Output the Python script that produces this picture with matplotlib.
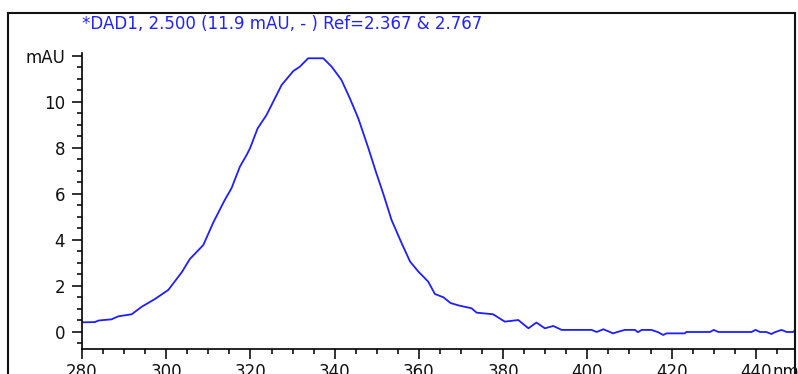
"""
DAD UV spectrum (280-450 nm) redrawn from a ChemStation export.
Saved to out.png; nothing is shown interactively.
"""

import matplotlib
matplotlib.use("Agg")
import matplotlib.pyplot as plt
from matplotlib.lines import Line2D
from matplotlib.ticker import MultipleLocator, FixedLocator

# ---------------------------------------------------------------------------
# Data
# ---------------------------------------------------------------------------

wavelength_nm = [
    280, 283, 284, 287, 288.6, 291.8, 294.2, 297.3, 300.5, 303.7,
    305.6, 308.8, 311.2, 313.9, 315.5, 317.5, 319.1, 319.9, 321.7, 323.8,
    325.4, 327.4, 330.2, 331.7, 333.7, 337.3, 339.3, 341.6, 343.6, 345.6,
    348.0, 349.9, 351.5, 353.5, 355.9, 357.9, 359.9, 362.2, 363.8, 365.8,
    367.5, 369.5, 372.5, 373.7, 377.6, 380.4, 383.6, 386.0, 387.9, 389.9,
    391.9, 393.9, 401.0, 402.2, 403.8, 406.1, 407.3, 408.9, 411.3, 412.0,
    412.9, 415.2, 416.8, 418.0, 418.8, 423.1, 423.5, 429.1, 430.0, 431.1,
    439.0, 439.9, 441.0, 442.5, 443.7, 444.5, 446.1, 447.3, 448.9, 449.7,
]
absorbance_mau = [
    0.42, 0.43, 0.50, 0.55, 0.68, 0.77, 1.10, 1.43, 1.83, 2.60,
    3.17, 3.78, 4.77, 5.74, 6.25, 7.19, 7.70, 7.99, 8.85, 9.43,
    10.01, 10.74, 11.35, 11.53, 11.90, 11.90, 11.53, 10.96, 10.16, 9.29,
    7.99, 6.90, 6.03, 4.87, 3.86, 3.06, 2.62, 2.19, 1.65, 1.51,
    1.26, 1.15, 1.03, 0.84, 0.77, 0.45, 0.52, 0.16, 0.41, 0.16,
    0.26, 0.09, 0.09, 0.00, 0.12, -0.06, 0.01, 0.09, 0.09, -0.01,
    0.09, 0.09, -0.01, -0.13, -0.06, -0.06, 0.00, 0.00, 0.09, 0.00,
    0.00, 0.09, 0.00, 0.00, -0.09, -0.01, 0.09, 0.00, 0.00, 0.16,
]

x_major = [280, 300, 320, 340, 360, 380, 400, 420, 440]
y_major = [0, 2, 4, 6, 8, 10, 12]
y_labels = ["0", "2", "4", "6", "8", "10", "mAU"]
title_text = "*DAD1, 2.500 (11.9 mAU, - ) Ref=2.367 & 2.767"

# ---------------------------------------------------------------------------
# Figure
# ---------------------------------------------------------------------------

W, H = 798, 374
FS = 12
plt.rcParams["font.family"] = ["DejaVu Sans"]

fig = plt.figure(figsize=(W / 100, H / 100), dpi=100)
# axes box in pixels: x 82..795, y 53..349 (from top)
ax = fig.add_axes([82 / W, 1 - 349 / H, (795 - 82) / W, (349 - 53) / H])

ax.plot(wavelength_nm, absorbance_mau, color="#1e1eff", lw=1.3)
ax.set_xlim(280, 449.3)
ax.set_ylim(-0.74, 12.13)

for side in ("top", "right"):
    ax.spines[side].set_visible(False)
for side in ("left", "bottom"):
    ax.spines[side].set_linewidth(1.2)

ax.xaxis.set_major_locator(FixedLocator(x_major))
ax.xaxis.set_minor_locator(MultipleLocator(5))
ax.yaxis.set_major_locator(FixedLocator(y_major))
ax.yaxis.set_minor_locator(MultipleLocator(0.5))
ax.set_yticklabels(y_labels)

ax.tick_params(which="major", length=7.2, width=1.2, labelsize=FS,
               colors="#111111")
ax.tick_params(which="minor", length=3.6, width=1.2, color="#111111")
ax.tick_params(axis="y", which="major", pad=5)
ax.tick_params(axis="x", which="major", pad=3)

# unit for the x axis sits just right of the last label
fig.text(773 / W, 1 - 363 / H, "nm", fontsize=FS, color="#111111",
         ha="left", va="top")

fig.text(82 / W, 1 - 24 / H, title_text, fontsize=FS, color="#2222ff",
         ha="left", va="center")

# outer frame (open at the bottom, picture is cropped there)
frame = dict(color="#111111", lw=1.5, transform=fig.transFigure)
fig.add_artist(Line2D([8 / W, 8 / W], [0, 1 - 13 / H], **frame))
fig.add_artist(Line2D([8 / W, 795 / W], [1 - 13 / H, 1 - 13 / H], **frame))
fig.add_artist(Line2D([795 / W, 795 / W], [0, 1 - 13 / H], **frame))

fig.savefig("out.png", dpi=100)
plt.close(fig)
